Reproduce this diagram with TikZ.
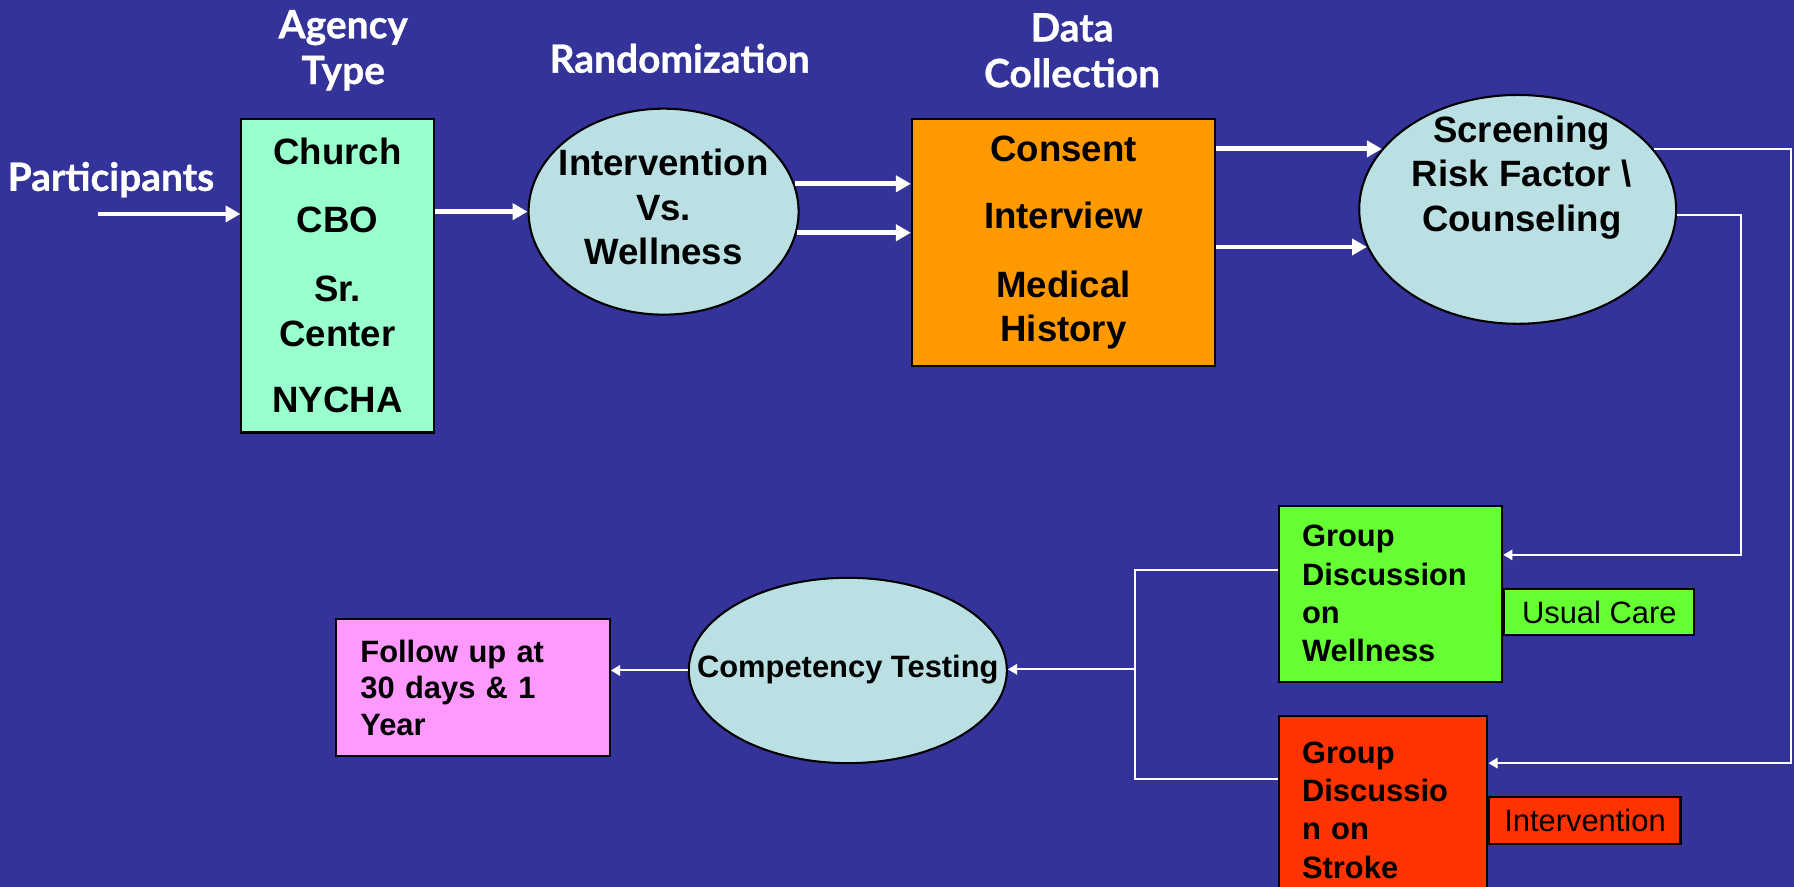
\documentclass[tikz,border=0pt]{standalone}
\usepackage{fontspec}
\setmainfont{Liberation Sans}
\newfontfamily\titlefont[BoldFeatures={FakeBold=0.8}]{Lato}
\usepackage{tikz}
\usetikzlibrary{shapes, arrows.meta, positioning}

\definecolor{slideblue}{HTML}{333399}
\definecolor{mintgreen}{HTML}{99FFCC}
\definecolor{ovalblue}{HTML}{BBE0E3}
\definecolor{dataorange}{HTML}{FF9900}
\definecolor{limegreen}{HTML}{66FF33}
\definecolor{strokered}{HTML}{FF3300}
\definecolor{followpink}{HTML}{FF99FF}

\begin{document}
\begin{tikzpicture}[x=1pt, y=-1pt,
    heading/.style={text=white, font=\titlefont\bfseries\fontsize{34}{40}\selectfont, align=center},
    card/.style={rectangle, draw=black, line width=1.8pt, inner sep=0pt},
    oval/.style={ellipse, draw=black, line width=1.8pt, fill=ovalblue, inner sep=0pt},
    bigtext/.style={font=\bfseries\fontsize{32}{39}\selectfont, align=center},
    smalltext/.style={font=\bfseries\fontsize{27}{33.5}\selectfont, align=left},
    fat/.style={white, line width=4.2pt, -{Triangle[length=13pt, width=14pt]}},
    slim/.style={white, line width=1.8pt},
    slimarrow/.style={slim, -{Triangle[length=8pt, width=9pt]}}]
        % Background
        \fill[slideblue] (0,0) rectangle (1568,775);
        \useasboundingbox (0,0) rectangle (1568,775);

        % Column headings
        \node[heading] (parthd) at (97,157) {Participants};
        \node[heading] (agencyhd) at (300,44) {Agency\\Type};
        \node[heading] (randhd) at (594,51) {Randomization};
        \node[heading] (datahd) at (937,44) {Data\\Collection};

        % Top row
        \node[card, fill=mintgreen, minimum width=168pt, minimum height=274pt, bigtext] (agency) at (295,241)
            {Church\\[20pt]CBO\\[22pt]Sr.\\Center\\[19pt]NYCHA};
        \node[oval, minimum width=236pt, minimum height=180pt] (rand) at (580,185) {};
        \node[bigtext] (randtxt) at (580,181) {Intervention\\Vs.\\Wellness};
        \node[card, fill=dataorange, minimum width=265pt, minimum height=216pt, bigtext] (data) at (929.5,212)
            {Consent\\[20pt]Interview\\[21pt]Medical\\History};
        \node[oval, minimum width=277pt, minimum height=200pt] (screen) at (1326.5,183) {};
        \node[bigtext] (screentxt) at (1330,155) {Screening\\Risk Factor \textbackslash\\Counseling};

        % Bottom row
        \node[card, fill=limegreen, minimum width=195pt, minimum height=154pt, smalltext, text width=155pt] (wellness) at (1215.5,519)
            {Group\\Discussion\\on\\Wellness};
        \node[card, fill=limegreen, minimum width=166pt, minimum height=40pt, font=\fontsize{27}{32}\selectfont, anchor=west] (usual)
            at ([yshift=-16pt]wellness.east) {Usual Care};
        \node[card, fill=strokered, minimum width=182pt, minimum height=164pt, smalltext, text width=142pt] (stroke) at (1209,708)
            {Group\\Discussio\\n on\\Stroke};
        \node[card, fill=strokered, minimum width=167pt, minimum height=41pt, font=\fontsize{27}{32}\selectfont, anchor=west] (intv)
            at ([yshift=-9.5pt]stroke.east) {Intervention};
        \node[oval, minimum width=278pt, minimum height=162pt] (comp) at (741,586) {};
        \node[font=\bfseries\fontsize{27}{32}\selectfont] (comptxt) at (741,585) {Competency Testing};
        \node[card, fill=followpink, minimum width=239pt, minimum height=120pt, font=\bfseries\fontsize{27}{32}\selectfont,
            align=left, text width=197pt] (followup) at (413.5,601) {Follow up at\\30 days \& 1\\Year};

        % Thick arrows
        \coordinate (pstart) at (86,187);
        \draw[fat] (pstart) -- (pstart -| agency.west);
        \draw[fat] (agency.east |- rand.west) -- (rand.west);
        \draw[fat] (rand.12) -- (rand.12 -| data.west);
        \draw[fat] (rand.351) -- (rand.351 -| data.west);
        \draw[fat] (data.east |- screen.156) -- (screen.156);
        \draw[fat] (data.east |- screen.194) -- (screen.194);

        % Thin connectors
        \coordinate (railA) at (1565,667);
        \coordinate (railB) at (1522,485);
        \coordinate (fork) at (992,585);
        \draw[slimarrow] (screen.24) -| (railA) -- (railA -| stroke.east);
        \draw[slimarrow] (screen.358) -| (railB) -- (railB -| wellness.east);
        \draw[slim] ([yshift=21pt]wellness.west) -| (fork) |- ([yshift=27pt]stroke.west);
        \draw[slimarrow] (fork) -- (fork -| comp.east);
        \draw[slimarrow] (comp.west) -- (comp.west -| followup.east);
\end{tikzpicture}
\end{document}
